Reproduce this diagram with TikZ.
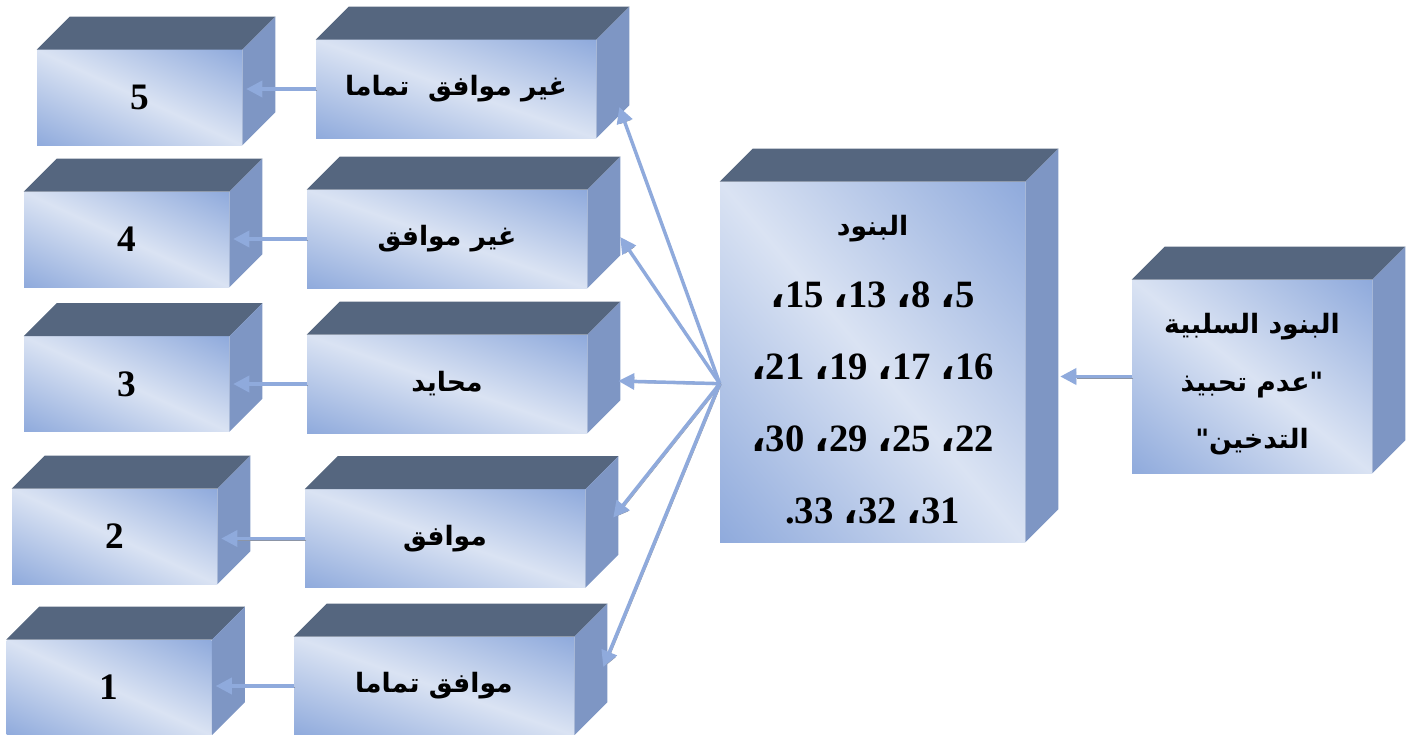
\documentclass[tikz,border=0pt]{standalone}
\usepackage{fontspec}
\setmainfont{Liberation Serif}
\newfontfamily\arabicfont[Script=Arabic]{DejaVu Sans}
\TeXXeTstate=1
\usetikzlibrary{arrows.meta,calc}

\definecolor{topFace}{HTML}{55667F}
\definecolor{sideFace}{HTML}{7E96C4}
\definecolor{arrowBlue}{HTML}{8FAADC}
\definecolor{arrowShade}{HTML}{8C95A6}

% light along one diagonal, blue towards the other two corners
\pgfdeclarefunctionalshading{facegrad}{\pgfpoint{0bp}{0bp}}{\pgfpoint{100bp}{100bp}}{}{
    add 100 sub 50 div abs
    dup 1 gt {pop 1} if
    dup -0.294 mul 0.855 add exch
    dup -0.223 mul 0.890 add exch
    -0.090 mul 0.953 add
}

\newcommand{\ac}{{\arabicfont ،}}

\tikzset{
    front/.style={inner sep=0pt, shade, shading=facegrad, align=center},
    numbox/.style={front, minimum width=153.75pt, minimum height=71.25pt,
        font=\fontsize{28}{30}\selectfont\bfseries},
    lblbox/.style={front, minimum width=210pt, minimum height=73.5pt,
        font=\arabicfont\fontsize{20}{24}\selectfont\bfseries},
    link/.style={-{Triangle[length=12pt,width=12pt]}, line width=2.6pt, draw=arrowBlue,
        preaction={draw=arrowShade, transform canvas={shift={(1pt,-1pt)}}}},
}

\begin{document}
\begin{tikzpicture}[x=0.75pt, y=-0.75pt]
    \useasboundingbox (0,0) rectangle (1413,735);

    % answer boxes and their scores
    \node[numbox] (num5) at (139.5,97.5) {5};
    \node[lblbox] (lbl5) at (456,89) {\beginR غير موافق\ \ تماما\endR};
    \node[numbox] (num4) at (126.5,239.5) {4};
    \node[lblbox] (lbl4) at (447,239) {\beginR غير موافق\endR};
    \node[numbox] (num3) at (126.5,384) {3};
    \node[lblbox] (lbl3) at (447,384) {\beginR محايد\endR};
    \node[numbox] (num2) at (114.5,536.5) {2};
    \node[lblbox] (lbl2) at (445,538.5) {\beginR موافق\endR};
    \node[numbox] (num1) at (109,687.5) {1};
    \node[lblbox] (lbl1) at (434,686) {\beginR موافق تماما\endR};

    % item list
    \node[front, minimum width=228.75pt, minimum height=270pt,
        font=\fontsize{29}{54}\selectfont\bfseries] (items) at (872.5,362)
        {{\arabicfont\fontsize{20}{54}\selectfont\rule{0pt}{26pt}\beginR البنود\endR}\\
         \beginR 5\ac\ 8\ac\ 13\ac\ 15\ac\endR\\
         \beginR 16\ac\ 17\ac\ 19\ac\ 21\ac\endR\\
         \beginR 22\ac\ 25\ac\ 29\ac\ 30\ac\endR\\
         \beginR 31\ac\ 32\ac\ 33\kern0pt.\endR};

    % negative items
    \node[front, minimum width=180pt, minimum height=144.75pt,
        font=\arabicfont\fontsize{20}{43}\selectfont\bfseries] (src) at (1252,376.5)
        {\rule{0pt}{27pt}\beginR البنود السلبية\endR\\
         \beginR"\kern0pt عدم تحبيذ\endR\\
         \beginR التدخين\kern0pt"\endR};

    % top and side faces
    \foreach \n in {num5,lbl5,num4,lbl4,num3,lbl3,num2,lbl2,num1,lbl1,items,src}{
        \fill[topFace] (\n.north west) -- ++(33,-33) -- ($(\n.north east)+(33,-33)$)
            -- (\n.north east) -- cycle;
        \fill[sideFace] (\n.north east) -- ++(33,-33) -- ($(\n.south east)+(33,-33)$)
            -- (\n.south east) -- cycle;
    }

    % arrows
    \coordinate (hub) at ($(items.north west)!0.56!(items.south west)$);
    \draw[link] (src.west) -- ($(items.east |- src.west)+(35,0)$);
    \draw[link] (hub) -- ($(lbl5.east)+(23,18)$);
    \draw[link] (hub) -- ($(lbl4.east)+(33,-2)$);
    \draw[link] (hub) -- ($(lbl3.east)+(31,-3)$);
    \draw[link] (hub) -- ($(lbl2.east)+(28,-21)$);
    \draw[link] (hub) -- ($(lbl1.east)+(29,-19)$);
    \foreach \i in {1,...,5}
        \draw[link] (lbl\i.west) -- ($(num\i.east |- lbl\i.west)+(4,0)$);
\end{tikzpicture}
\end{document}
